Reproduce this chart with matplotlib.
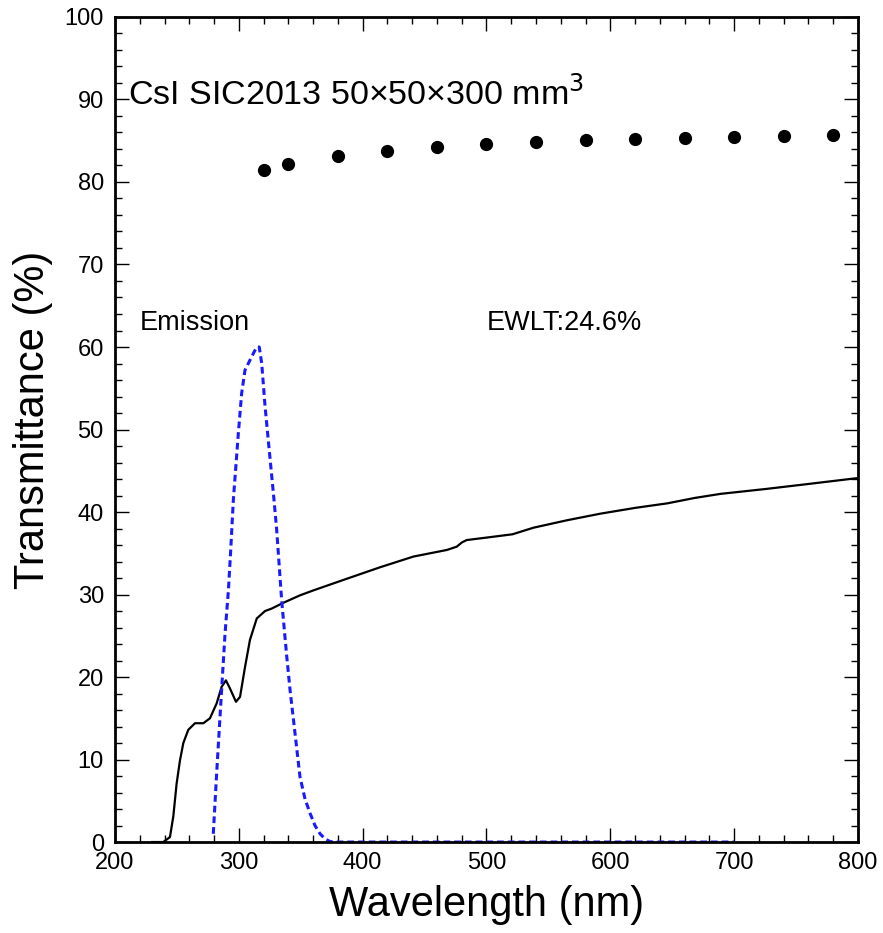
import numpy as np
import matplotlib.pyplot as plt
from matplotlib.ticker import MultipleLocator

plt.rcParams['font.family'] = ['Liberation Sans', 'DejaVu Sans']

# transmittance along crystal (black curve)
wl_long = [230, 239, 244.4, 247.1, 249.8, 252.5, 255.2, 259.2, 264.6, 271.4, 276.7, 282.1,
           286.1, 289.6, 292.9, 297.7, 301, 305, 309, 314.5, 321.2, 326.6, 336, 349.4,
           360.2, 387, 414, 441, 468, 476, 480, 484, 500, 521, 538, 565, 592, 620, 646,
           668, 689, 726, 760, 799]
lt_long = [0.0, 0.0, 0.6, 3.1, 7.1, 9.9, 12.0, 13.6, 14.4, 14.4, 15.0, 16.8,
           18.8, 19.6, 18.6, 17.0, 17.6, 21.2, 24.5, 27.1, 28.0, 28.3, 29.0, 29.9,
           30.5, 31.9, 33.3, 34.6, 35.4, 35.8, 36.3, 36.6, 36.9, 37.3, 38.1, 39.0, 39.8, 40.5, 41.05,
           41.7, 42.2, 42.8, 43.4, 44.1]

# transverse transmittance (dots)
wl_trans = [320, 340, 380, 420, 460, 500, 540, 580, 620, 660, 700, 740, 780]
t_trans = [81.5, 82.2, 83.2, 83.8, 84.2, 84.6, 84.8, 85.1, 85.2, 85.3, 85.5, 85.6, 85.7]

# emission spectrum (blue dashed, arbitrary units)
wl_em = [279.4, 282.1, 286.1, 288.9, 291.6, 293.5, 295.6, 299.6, 302.3, 305, 309, 312, 314.5,
         316.5, 318.5, 321.2, 323.8, 327.9, 330.5, 334.6, 338.7, 341.4, 344, 349.4, 353.5,
         357.5, 361.5, 365.6, 369.5, 373.7, 380, 400, 500, 600, 700]
em = [1.0, 8.3, 18.4, 25.3, 30.5, 35.5, 41.5, 49.5, 54.4, 57.2, 58.4, 59.3, 60.0,
      60.0, 58.0, 52.8, 48.7, 42.3, 38.0, 29.3, 22.5, 18.4, 15.0, 7.9, 5.2,
      3.5, 2.0, 1.0, 0.4, 0.05, 0.0, 0.0, 0.0, 0.0, 0.0]

fig = plt.figure(figsize=(8.83, 9.33), dpi=100)
ax = fig.add_axes([0.1302, 0.0975, 0.8415, 0.8843])

ax.plot(wl_long, lt_long, color='black', lw=1.6)
ax.plot(wl_em, em, color='#1a1aff', lw=2.2, ls=(0, (2.2, 1.3)))
ax.plot(wl_trans, t_trans, 'o', color='black', ms=8.5)

ax.set_xlim(200, 800)
ax.set_ylim(0, 100)
ax.xaxis.set_major_locator(MultipleLocator(100))
ax.xaxis.set_minor_locator(MultipleLocator(20))
ax.yaxis.set_major_locator(MultipleLocator(10))
ax.yaxis.set_minor_locator(MultipleLocator(2))
ax.tick_params(which='both', direction='in', top=True, right=True, labelsize=17, width=1.0)
ax.tick_params(which='major', length=10)
ax.tick_params(which='minor', length=5)
ax.tick_params(axis='x', pad=7)
ax.tick_params(axis='y', pad=8)
for s in ax.spines.values():
    s.set_linewidth(2.0)

ax.set_xlabel('Wavelength (nm)', fontsize=30, labelpad=8)
ax.set_ylabel('Transmittance (%)', fontsize=30)
ax.yaxis.set_label_coords(-0.083, 0.512)

ax.text(0.0175, 0.907, 'CsI SIC2013 50×50×300 mm$^3$', transform=ax.transAxes,
        fontsize=24.5, va='center', ha='left')
ax.text(0.034, 0.629, 'Emission', transform=ax.transAxes, fontsize=19.5, va='center', ha='left')
ax.text(0.5, 0.629, 'EWLT:24.6%', transform=ax.transAxes, fontsize=19.5, va='center', ha='left')

fig.savefig('out.png', dpi=100)
